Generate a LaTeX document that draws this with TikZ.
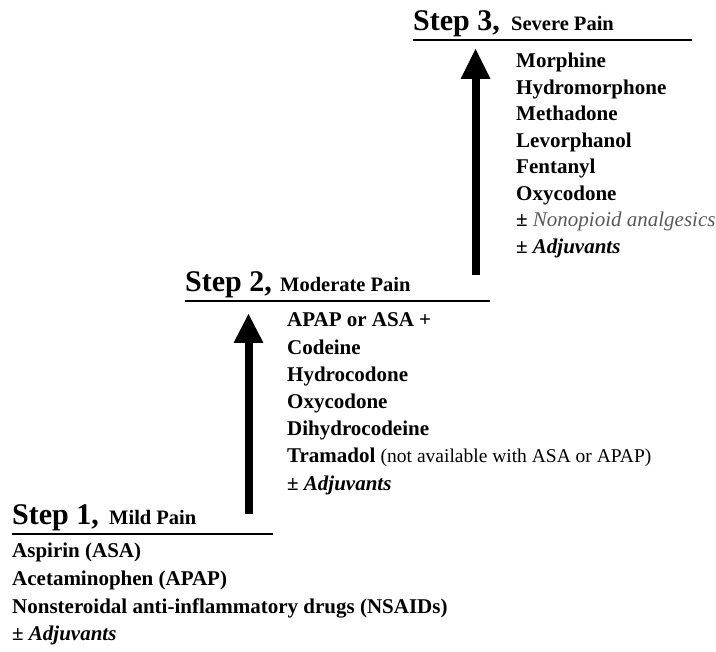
\documentclass[tikz,border=0pt]{standalone}
\usepackage{fontspec}
\setmainfont{Liberation Serif}
\begin{document}
\begin{tikzpicture}[x=1pt,y=-1pt,
  head/.style={anchor=base west,inner sep=0pt,font=\fontsize{30}{33}\selectfont\bfseries},
  sub/.style={anchor=base west,inner sep=0pt,font=\fontsize{20.5}{23}\selectfont\bfseries},
  item/.style={anchor=base west,inner sep=0pt,font=\fontsize{21}{24}\selectfont\bfseries},
  uline/.style={line width=1.8pt},
  shaft/.style={line width=8pt},
  tip/.style={fill=black}]
\useasboundingbox (0,0) rectangle (716,652);
% ---------- Step 3 ----------
\node[head] (h3) at (413,31) {Step 3,};
\node[sub] (t3) at (511,31) {Severe Pain};
\coordinate (u3a) at (413,40); \coordinate (u3b) at (692,40);
\draw[uline] (u3a) -- (u3b);
\node[item] (s3a) at (516,68) {Morphine};
\node[item] (s3b) at (516,94.5) {Hydromorphone};
\node[item] (s3c) at (516,121) {Methadone};
\node[item] (s3d) at (516,147.5) {Levorphanol};
\node[item] (s3e) at (516,174) {Fentanyl};
\node[item] (s3f) at (516,200.5) {Oxycodone};
\node[item] (s3g) at (516,227) {± \textcolor{black!65}{\mdseries\itshape Nonopioid analgesics}};
\node[item] (s3h) at (516,253.5) {± \itshape Adjuvants};
% ---------- Step 2 ----------
\node[head] (h2) at (185,292) {Step 2,};
\node[sub] (t2) at (280,292) {Moderate Pain};
\coordinate (u2a) at (185,301); \coordinate (u2b) at (490,301);
\draw[uline] (u2a) -- (u2b);
\node[item] (s2a) at (287,327) {APAP or ASA +};
\node[item] (s2b) at (287,354.2) {Codeine};
\node[item] (s2c) at (287,381.4) {Hydrocodone};
\node[item] (s2d) at (287,408.6) {Oxycodone};
\node[item] (s2e) at (287,435.8) {Dihydrocodeine};
\node[item] (s2f) at (287,463) {Tramadol {\mdseries\fontsize{19.5}{22}\selectfont(not available with ASA or APAP)}};
\node[item] (s2g) at (287,490.2) {± \itshape Adjuvants};
% ---------- Step 1 ----------
\node[head] (h1) at (12,525) {Step 1,};
\node[sub] (t1) at (109,525) {Mild Pain};
\coordinate (u1a) at (12,534); \coordinate (u1b) at (273,534);
\draw[uline] (u1a) -- (u1b);
\node[item] (s1a) at (12,558) {Aspirin (ASA)};
\node[item] (s1b) at (12,586) {Acetaminophen (APAP)};
\node[item] (s1c) at (12,613.5) {Nonsteroidal anti-inflammatory drugs (NSAIDs)};
\node[item] (s1d) at (12,641) {± \itshape Adjuvants};
% ---------- Arrows ----------
\coordinate (a1b) at (248.5,514); \coordinate (a1h) at (248.5,342);
\coordinate (a1l) at (233.5,343); \coordinate (a1r) at (263.5,343); \coordinate (a1t) at (248.5,314);
\draw[shaft] (a1b) -- (a1h);
\fill[tip] (a1l) -- (a1t) -- (a1r) -- cycle;
\coordinate (a2b) at (475.5,275); \coordinate (a2h) at (475.5,78);
\coordinate (a2l) at (460.5,79); \coordinate (a2r) at (490.5,79); \coordinate (a2t) at (475.5,49);
\draw[shaft] (a2b) -- (a2h);
\fill[tip] (a2l) -- (a2t) -- (a2r) -- cycle;
\end{tikzpicture}
\end{document}
